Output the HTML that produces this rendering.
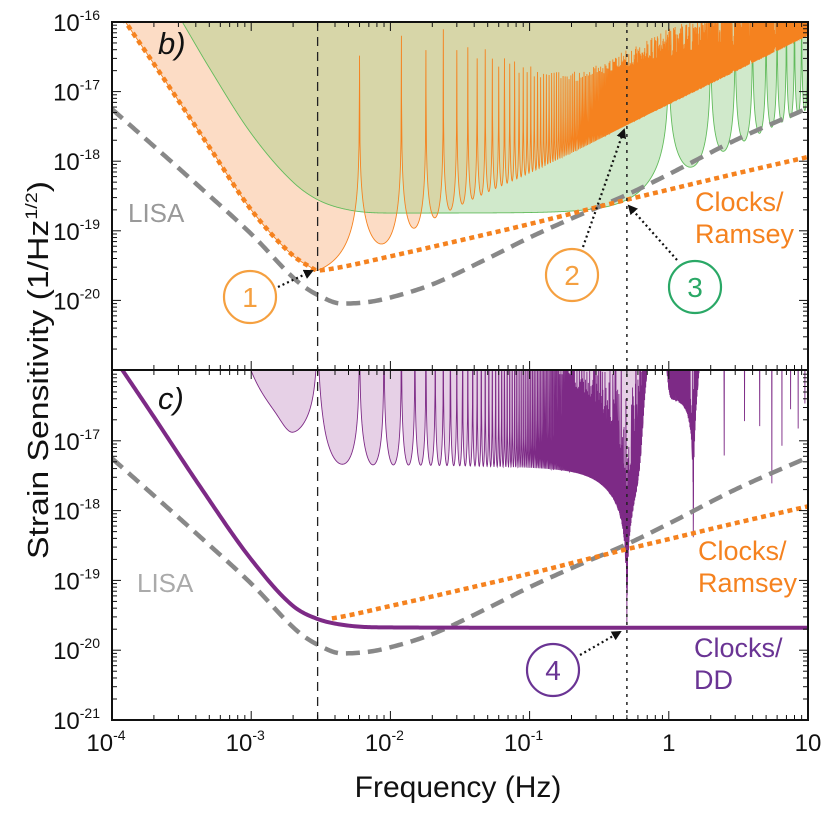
<!DOCTYPE html>
<html><head><meta charset="utf-8">
<style>
html,body{margin:0;padding:0;background:#fff;}
body{position:relative;width:830px;height:819px;overflow:hidden;}
svg{display:block;font-family:"Liberation Sans",sans-serif;}
</style></head>
<body>
<svg id="chart" width="830" height="819" viewBox="0 0 830 819" xmlns="http://www.w3.org/2000/svg">
<defs>
<clipPath id="clipTop"><rect x="112" y="22" width="696" height="348"/></clipPath>
<clipPath id="clipBot"><rect x="112" y="370" width="696" height="350"/></clipPath>
<clipPath id="clipGreen"><path id="greenClipPath" d=""/></clipPath>
</defs>
<g id="topPanel" clip-path="url(#clipTop)"></g>
<g id="botPanel" clip-path="url(#clipBot)"></g>
<g id="overlay"></g>
<g id="axes"></g>
</svg>
<script>
// ---- data ----
const LISA_F=[1e-4,4.3e-4,1e-3,2.2e-3,3e-3,4.5e-3,7e-3,1e-2,2e-2,5e-2,0.1,0.2,0.5,1,3,10];
const LISA_H=[5.6e-18,4.2e-19,9e-20,1.8e-20,1.2e-20,9e-21,9.5e-21,1.1e-20,1.7e-20,4e-20,8e-20,1.5e-19,3.3e-19,6.5e-19,2e-18,5.8e-18];
const RAMSEY_F=[1.25e-4,2e-4,5e-4,1e-3,2e-3,2.6e-3,3e-3,4e-3,1e-2,3e-2,0.1,0.5,1,3,10];
const RAMSEY_H=[1e-16,2.5e-17,1.6e-18,2e-19,4.4e-20,3.1e-20,2.7e-20,2.9e-20,4.3e-20,7.1e-20,1.25e-19,2.8e-19,3.9e-19,6.6e-19,1.15e-18];
const DD_F=[1.2e-4,2e-4,4.3e-4,1e-3,2e-3,3e-3,5e-3,1e-2,0.1,10];
const DD_H=[1e-16,2.2e-17,2.2e-18,2e-19,4.3e-20,2.8e-20,2.25e-20,2.12e-20,2.1e-20,2.1e-20];
const ODIP_F=[3e-3,9e-3,1.5e-2,3.4e-2,0.1,0.5,10];
const ODIP_H=[2.7e-20,6.6e-20,1.1e-19,2.5e-19,7e-19,3.6e-18,7e-17];
const OEPS_F=[1e-3,2e-2,0.1,0.3,10];
const OEPS_V=[1.2e-3,1.5e-3,0.03,0.09,0.09];
const GFLOOR_F=[2.6e-4,3.2e-4,5e-4,1e-3,2e-3,3e-3,5e-3,1e-2,10];
const GFLOOR_H=[2e-16,1e-16,2.2e-17,2.5e-18,5e-19,2.8e-19,2e-19,1.8e-19,1.8e-19];
const PENV_F=[8e-4,1e-3,1.5e-3,2e-3,2.8e-3,3.5e-3,4.5e-3,1e-2,0.1,0.3,0.55,0.62,0.68,0.8,0.92,0.97,1.05,1.3,1.5,1.7,2.0,10];
const PENV_H=[3e-16,8.7e-17,2.5e-17,1.15e-17,1e-17,5.2e-18,4.6e-18,4.5e-18,4.3e-18,4.5e-18,6e-18,1.2e-17,1e-16,1e-15,1e-15,1e-16,4e-17,5e-17,8e-17,3e-16,3e-15,5e-15];
const NOTCH_F=[0.5,1.5,2.5,3.5,4.5,5.5,6.5,7.5,8.5,9.5];
const NOTCH_H=[2.1e-20,1e-19,1.5e-18,1.1e-18,8e-19,1e-18,1.2e-18,1.5e-18,1e-18,1e-18];
const F_RAMSEY=3e-3, P_GREEN=1.0, F_DD=3e-3;
const X_TICKS=[-4,-3,-2,-1,0,1];
const X_LABELS=["10","10","10","10","1","10"];
const X_SUPS=["-4","-3","-2","-1","",""];
const YT_TICKS=[-16,-17,-18,-19,-20];
const YB_TICKS=[-17,-18,-19,-20,-21];

const NS="http://www.w3.org/2000/svg";
const X0=112,X1=808;
function xs(f){return X0+(Math.log10(f)+4)*139.2;}
function fx(x){return Math.pow(10,(x-X0)/139.2-4);}
function yt(h){return 22+(-16-Math.log10(h))*69.6;}
function yb(h){return 371+(-16-Math.log10(h))*69.8;}

function makeInterp(F,H){
  const X=F.map(Math.log10),Y=H.map(Math.log10),n=X.length;
  const d=[],m=new Array(n);
  for(let i=0;i<n-1;i++)d.push((Y[i+1]-Y[i])/(X[i+1]-X[i]));
  m[0]=d[0];m[n-1]=d[n-2];
  for(let i=1;i<n-1;i++){m[i]=(d[i-1]*d[i]<=0)?0:(d[i-1]+d[i])/2;}
  for(let i=0;i<n-1;i++){if(d[i]===0){m[i]=m[i+1]=0;continue;}
    const a=m[i]/d[i],b=m[i+1]/d[i],s=a*a+b*b;if(s>9){const t=3/Math.sqrt(s);m[i]=t*a*d[i];m[i+1]=t*b*d[i];}}
  return function(f){
    const x=Math.log10(f);
    if(x<=X[0])return Math.pow(10,Y[0]+d[0]*(x-X[0]));
    if(x>=X[n-1])return Math.pow(10,Y[n-1]+d[n-2]*(x-X[n-1]));
    let i=0;while(x>X[i+1])i++;
    const h=X[i+1]-X[i],t=(x-X[i])/h,t2=t*t,t3=t2*t;
    const y=(2*t3-3*t2+1)*Y[i]+(t3-2*t2+t)*h*m[i]+(-2*t3+3*t2)*Y[i+1]+(t3-t2)*h*m[i+1];
    return Math.pow(10,y);
  };
}
const lisaFn=makeInterp(LISA_F,LISA_H), ramseyFn=makeInterp(RAMSEY_F,RAMSEY_H), ddFn=makeInterp(DD_F,DD_H);
const odipFn=makeInterp(ODIP_F,ODIP_H), gfloorFn=makeInterp(GFLOOR_F,GFLOOR_H), penvFn=makeInterp(PENV_F,PENV_H);
const oepsFn=makeInterp(OEPS_F,OEPS_V);
function notchDepth(f){let best=0,bd=1e9;for(let i=0;i<NOTCH_F.length;i++){const q=Math.abs(f-NOTCH_F[i]);if(q<bd){bd=q;best=i;}}return NOTCH_H[best];}
function orangeRes(f){ if(f<F_RAMSEY) return ramseyFn(f);
  return odipFn(f)/(Math.abs(Math.sin(Math.PI*f/(2*F_RAMSEY)))+oepsFn(f));}
function greenRes(f){const x=Math.PI*f/P_GREEN;
  const fac=(x<1)?x/Math.sin(x):x/(Math.abs(Math.sin(x))+0.01);
  return gfloorFn(f)*fac;}
function purpleRes(f){const S=notchDepth(f)+penvFn(f)*Math.abs(Math.cos(Math.PI*f));
  return S/(Math.abs(Math.sin(Math.PI*f/F_DD))+1e-3);}

function smoothPath(fn,ymap,fa,fb){
  let d="";const N=400;
  for(let i=0;i<=N;i++){const f=fa*Math.pow(fb/fa,i/N);let y=ymap(fn(f));if(y<-500)y=-500;
    d+=(i?"L":"M")+xs(f).toFixed(2)+","+y.toFixed(2);}
  return d;
}
function resPoints(fn,ymap,xa,xb){
  const pts=[];const step=0.5,sub=16;
  for(let x=xa;x<xb;x+=step){
    let mn=1e9,mx=-1e9,imn=0,imx=0;
    for(let k=0;k<sub;k++){const xx=x+step*(k+0.5)/sub;let y=ymap(fn(fx(xx)));
      if(y<0)y=0; if(y>900)y=900;
      if(y<mn){mn=y;imn=xx;} if(y>mx){mx=y;imx=xx;}}
    if(imn<imx){pts.push([imn,mn],[imx,mx]);}else{pts.push([imx,mx],[imn,mn]);}
  }
  return pts;
}
function lineD(pts){return pts.map((p,i)=>(i?"L":"M")+p[0].toFixed(2)+","+p[1].toFixed(2)).join("");}
function fillD(pts,topY){const a=pts[0],b=pts[pts.length-1];
  return "M"+a[0].toFixed(2)+","+topY+lineD(pts).replace(/^M/,"L")+"L"+b[0].toFixed(2)+","+topY+"Z";}
function mk(parent,tag,attrs){const el=document.createElementNS(NS,tag);for(const k in attrs)el.setAttribute(k,attrs[k]);parent.appendChild(el);return el;}

const topP=document.getElementById("topPanel"), botP=document.getElementById("botPanel"), ovP=document.getElementById("overlay"), axP=document.getElementById("axes");

const gPts=resPoints(greenRes,yt,X0,X1), oPts=resPoints(orangeRes,yt,X0,X1);
const gFill=fillD(gPts,0), oFill=fillD(oPts,0);
document.getElementById("greenClipPath").setAttribute("d",gFill);
let el;
el=mk(topP,"path",{d:gFill,fill:"#d0e9cb"});


el=mk(topP,"path",{d:oFill,fill:"#fcdcc5"});


const og=mk(topP,"g",{"clip-path":"url(#clipGreen)"});
el=mk(og,"path",{d:oFill,fill:"#d7d6a8"});


el=mk(topP,"path",{d:lineD(gPts),fill:"none",stroke:"#62bb5c","stroke-width":"0.9"});


el=mk(topP,"path",{d:lineD(oPts),fill:"none",stroke:"#f5821f","stroke-width":"0.9"});


el=mk(topP,"path",{d:smoothPath(lisaFn,yt,1e-4,10),fill:"none",stroke:"#888","stroke-width":"4.5","stroke-dasharray":"14 8"});


el=mk(topP,"path",{d:smoothPath(ramseyFn,yt,1.1e-4,10),fill:"none",stroke:"#f5821f","stroke-width":"4.5","stroke-dasharray":"5 4"});



const pPts=resPoints(purpleRes,yb,X0,X1);
el=mk(botP,"path",{d:fillD(pPts,370),fill:"#e6d0e6"});


el=mk(botP,"path",{d:lineD(pPts),fill:"none",stroke:"#7d2a86","stroke-width":"0.9"});


el=mk(botP,"path",{d:smoothPath(lisaFn,yb,1e-4,10),fill:"none",stroke:"#888","stroke-width":"4.5","stroke-dasharray":"14 8"});


el=mk(botP,"path",{d:smoothPath(ramseyFn,yb,3.8e-3,10),fill:"none",stroke:"#f5821f","stroke-width":"4.5","stroke-dasharray":"5 4"});


el=mk(botP,"path",{d:smoothPath(ddFn,yb,1.1e-4,10),fill:"none",stroke:"#7d2a86","stroke-width":"4"});



el=mk(ovP,"line",{x1:xs(3e-3),x2:xs(3e-3),y1:22,y2:720,stroke:"#222","stroke-width":"1.3","stroke-dasharray":"9 6"});


el=mk(ovP,"line",{x1:xs(0.5),x2:xs(0.5),y1:22,y2:720,stroke:"#222","stroke-width":"1.5","stroke-dasharray":"3 5"});



function yTicks(ymap,ticks,y0,y1){
  for(let dcd=-21;dcd<-16;dcd++){for(let k=1;k<10;k++){const h=k*Math.pow(10,dcd);const y=ymap(h);
    if(y<y0-0.5||y>y1+0.5)continue;const L=(k===1)?9:5;
    mk(axP,"line",{x1:X0,x2:X0+L,y1:y,y2:y,stroke:"#111","stroke-width":"1"});
    mk(axP,"line",{x1:X1,x2:X1-L,y1:y,y2:y,stroke:"#111","stroke-width":"1"});}}
  ticks.forEach(t=>{const y=ymap(Math.pow(10,t));
    const tx=mk(axP,"text",{x:100,y:y+9,"text-anchor":"end","font-size":"24",fill:"#111"});
    
    
    tx.innerHTML='10<tspan dy="-11" font-size="14">'+t+'</tspan>';});
}
function xTicks(y,dir){
  for(let dcd=-4;dcd<1;dcd++){for(let k=1;k<10;k++){const x=xs(k*Math.pow(10,dcd));const L=(k===1)?9:5;
    mk(axP,"line",{x1:x,x2:x,y1:y,y2:y+dir*L,stroke:"#111","stroke-width":"1"});}}
  mk(axP,"line",{x1:X1,x2:X1,y1:y,y2:y+dir*9,stroke:"#111","stroke-width":"1"});
}
yTicks(yt,YT_TICKS,22,370); yTicks(yb,YB_TICKS,370,720);
xTicks(22,1); xTicks(370,-1); xTicks(370,1); xTicks(720,-1);
el=mk(axP,"rect",{x:X0,y:22,width:X1-X0,height:348,fill:"none",stroke:"#111","stroke-width":"2"});


el=mk(axP,"rect",{x:X0,y:370,width:X1-X0,height:350,fill:"none",stroke:"#111","stroke-width":"2"});


X_TICKS.forEach((t,i)=>{const x=xs(Math.pow(10,t));
  const tx=mk(axP,"text",{x:x+(X_SUPS[i]?-6:0),y:751,"text-anchor":"middle","font-size":"24",fill:"#111"});
  
  
  tx.innerHTML=X_LABELS[i]+(X_SUPS[i]?'<tspan dy="-11" font-size="14">'+X_SUPS[i]+'</tspan>':'');});
</script>
<svg width="830" height="819" viewBox="0 0 830 819" style="position:absolute;left:0;top:0;font-family:'Liberation Sans',sans-serif" xmlns="http://www.w3.org/2000/svg">
<defs><marker id="ah2" viewBox="0 0 10 10" refX="8" refY="5" markerWidth="4.5" markerHeight="4.5" orient="auto"><path d="M0,0 L10,5 L0,10 z" fill="#111"/></marker></defs>
<text x="0" y="0" transform="translate(48,370) rotate(-90)" text-anchor="middle" font-size="29" fill="#111" textLength="378" lengthAdjust="spacingAndGlyphs">Strain Sensitivity (1/Hz<tspan dy="-11" font-size="17">1/2</tspan><tspan dy="11">)</tspan></text>
<text x="458" y="797" text-anchor="middle" font-size="30" fill="#111">Frequency (Hz)</text>
<text x="158" y="54" font-size="31" font-style="italic" fill="#111">b)</text>
<text x="158" y="409" font-size="31" font-style="italic" fill="#111">c)</text>
<text x="128" y="222" font-size="26" fill="#999">LISA</text>
<text x="137" y="592" font-size="26" fill="#aaa">LISA</text>
<text font-size="27" fill="#f5821f"><tspan x="695" y="211">Clocks/</tspan><tspan x="695" y="243">Ramsey</tspan></text>
<text font-size="27" fill="#f5821f"><tspan x="698" y="560">Clocks/</tspan><tspan x="698" y="592">Ramsey</tspan></text>
<text font-size="27" fill="#6a3494"><tspan x="694" y="657">Clocks/</tspan><tspan x="694" y="689">DD</tspan></text>
<g>
<circle cx="250" cy="297" r="26" fill="#fff" stroke="#f5a040" stroke-width="2.2"/>
<text x="250" y="307" text-anchor="middle" font-size="28" fill="#f5a040">1</text>
<line x1="278" y1="287" x2="312" y2="271" stroke="#111" stroke-width="2.2" stroke-dasharray="2 3" marker-end="url(#ah2)"/>
</g>
<g>
<circle cx="572" cy="275" r="26" fill="#fff" stroke="#f5a040" stroke-width="2.2"/>
<text x="572" y="285" text-anchor="middle" font-size="28" fill="#f5a040">2</text>
<line x1="583" y1="247" x2="624" y2="130" stroke="#111" stroke-width="2.2" stroke-dasharray="2 3" marker-end="url(#ah2)"/>
</g>
<g>
<circle cx="695" cy="287" r="26" fill="#fff" stroke="#2aa866" stroke-width="2.2"/>
<text x="695" y="297" text-anchor="middle" font-size="28" fill="#2aa866">3</text>
<line x1="677" y1="260" x2="629" y2="206" stroke="#111" stroke-width="2.2" stroke-dasharray="2 3" marker-end="url(#ah2)"/>
</g>
<g>
<circle cx="553" cy="670" r="26" fill="#fff" stroke="#6a3494" stroke-width="2.2"/>
<text x="553" y="680" text-anchor="middle" font-size="28" fill="#6a3494">4</text>
<line x1="580" y1="655" x2="620" y2="632" stroke="#111" stroke-width="2.2" stroke-dasharray="2 3" marker-end="url(#ah2)"/>
</g>
</svg>
</body></html>
